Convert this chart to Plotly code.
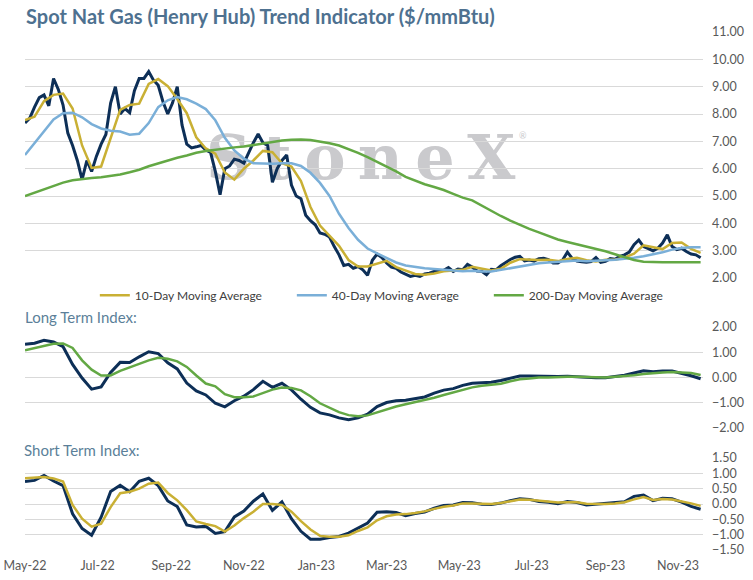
import pandas as pd
import plotly.graph_objects as go

# spot price, sampled every 4 days from 1 May 2022
spot_dates = pd.date_range("2022-05-01", periods=143, freq="4D")
spot = [7.67, 7.85, 8.25, 8.6, 8.7, 8.3, 9.3, 8.9, 8.33, 7.3,
        6.85, 6.3, 5.6, 6.3, 5.9, 6.45, 6.9, 7.25, 8.4, 9.0,
        8.0, 8.2, 8.05, 8.85, 9.3, 9.3, 9.55, 9.24, 9.05, 8.45,
        8.0, 8.4, 9.0, 7.6, 6.9, 6.76, 6.8, 6.85, 6.68, 6.6,
        5.9, 5.05, 6.0, 6.1, 6.35, 6.3, 6.2, 6.6, 6.95, 7.27,
        6.95, 6.85, 5.5, 6.0, 6.3, 6.5, 5.4, 5.0, 4.9, 4.3,
        4.1, 3.95, 3.65, 3.6, 3.5, 3.15, 2.85, 2.46, 2.5, 2.36,
        2.42, 2.3, 2.1, 2.65, 2.88, 2.75, 2.55, 2.4, 2.36, 2.22,
        2.14, 2.06, 2.1, 2.06, 2.15, 2.18, 2.24, 2.28, 2.28, 2.38,
        2.24, 2.33, 2.3, 2.5, 2.4, 2.26, 2.25, 2.12, 2.32, 2.3,
        2.45, 2.57, 2.68, 2.76, 2.79, 2.63, 2.66, 2.62, 2.71, 2.72,
        2.67, 2.55, 2.55, 2.66, 2.95, 2.72, 2.62, 2.6, 2.58, 2.6,
        2.75, 2.57, 2.61, 2.71, 2.69, 2.79, 2.85, 2.95, 3.22, 3.39,
        3.15, 3.08, 3.0, 3.09, 3.28, 3.58, 3.15, 3.04, 3.09, 2.97,
        2.88, 2.85, 2.74]

# smoother series, sampled every 8 days
ma_dates = pd.date_range("2022-05-01", periods=72, freq="8D")
ma10 = [7.78, 7.9, 8.47, 8.7, 8.75, 8.2, 6.85, 6.03, 6.08, 7.08,
        8.15, 8.33, 8.38, 9.1, 9.28, 9.02, 8.55, 8.03, 7.15, 6.74,
        6.55, 5.86, 5.6, 6.0, 6.3, 6.65, 6.6, 6.2, 6.08, 5.55,
        4.6, 3.92, 3.53, 3.18, 2.66, 2.42, 2.42, 2.53, 2.63, 2.4,
        2.27, 2.15, 2.12, 2.17, 2.25, 2.28, 2.3, 2.41, 2.35, 2.28,
        2.34, 2.56, 2.69, 2.67, 2.66, 2.67, 2.62, 2.7, 2.74, 2.65,
        2.61, 2.67, 2.67, 2.75, 2.89, 3.2, 3.14, 3.06, 3.28, 3.3,
        3.07, 2.92]
ma40 = [6.5, 6.92, 7.38, 7.8, 8.03, 8.05, 7.88, 7.63, 7.47, 7.39,
        7.36, 7.24, 7.28, 7.67, 8.25, 8.5, 8.62, 8.54, 8.38, 8.18,
        7.77, 7.13, 6.67, 6.37, 6.2, 6.18, 6.18, 6.2, 6.2, 6.1,
        5.85, 5.48, 5.0, 4.35, 3.83, 3.4, 3.08, 2.9, 2.72, 2.57,
        2.46, 2.4, 2.36, 2.33, 2.3, 2.27, 2.25, 2.27, 2.24, 2.24,
        2.3, 2.36, 2.42, 2.48, 2.54, 2.57, 2.6, 2.63, 2.64, 2.61,
        2.62, 2.65, 2.67, 2.7, 2.74, 2.8, 2.87, 2.94, 3.04, 3.1,
        3.13, 3.13]
ma200 = [5.0, 5.12, 5.24, 5.37, 5.49, 5.58, 5.63, 5.66, 5.69, 5.73,
         5.79, 5.87, 5.96, 6.09, 6.2, 6.31, 6.4, 6.48, 6.58, 6.65,
         6.7, 6.74, 6.78, 6.81, 6.87, 6.92, 6.98, 7.03, 7.06, 7.07,
         7.05, 7.0, 6.93, 6.85, 6.72, 6.58, 6.42, 6.25, 6.06, 5.9,
         5.7, 5.56, 5.43, 5.33, 5.22, 5.08, 4.94, 4.84, 4.64, 4.46,
         4.27, 4.1, 3.94, 3.8, 3.67, 3.53, 3.41, 3.32, 3.24, 3.15,
         3.07, 2.98, 2.87, 2.76, 2.66, 2.6, 2.58, 2.58, 2.58, 2.58,
         2.58, 2.58]

long_idx = [1.32, 1.36, 1.47, 1.41, 1.22, 0.52, -0.02, -0.46, -0.37, 0.2,
            0.6, 0.59, 0.82, 1.02, 0.95, 0.58, 0.34, -0.22, -0.53, -0.69,
            -1.02, -1.16, -0.92, -0.74, -0.48, -0.15, -0.39, -0.23, -0.49, -0.86,
            -1.18, -1.4, -1.48, -1.6, -1.67, -1.6, -1.45, -1.15, -0.99, -0.92,
            -0.9, -0.83, -0.77, -0.62, -0.5, -0.44, -0.31, -0.23, -0.22, -0.19,
            -0.12, -0.03, 0.06, 0.06, 0.05, 0.04, 0.04, 0.05, 0.03, 0.0,
            -0.01, -0.01, 0.04, 0.09, 0.18, 0.27, 0.23, 0.26, 0.26, 0.17,
            0.07, -0.05]
long_sig = [1.08, 1.16, 1.26, 1.34, 1.35, 1.17, 0.68, 0.31, 0.08, 0.08,
            0.26, 0.4, 0.51, 0.68, 0.78, 0.74, 0.64, 0.42, 0.08, -0.24,
            -0.35, -0.66, -0.78, -0.78, -0.75, -0.6, -0.48, -0.4, -0.42, -0.51,
            -0.74, -1.02, -1.2, -1.37, -1.49, -1.53, -1.5, -1.38, -1.25, -1.15,
            -1.06, -0.98, -0.9, -0.8, -0.69, -0.59, -0.49, -0.39, -0.33, -0.29,
            -0.25, -0.15, -0.07, -0.04, 0.0, 0.0, 0.02, 0.03, 0.03, 0.03,
            0.01, 0.0, 0.02, 0.05, 0.09, 0.14, 0.18, 0.2, 0.22, 0.2,
            0.18, 0.1]
short_idx = [0.73, 0.77, 0.93, 0.75, 0.6, -0.32, -0.8, -1.02, -0.43, 0.41,
             0.61, 0.4, 0.74, 0.84, 0.6, 0.1, -0.08, -0.68, -0.75, -0.73,
             -0.96, -0.9, -0.42, -0.23, 0.09, 0.33, -0.21, 0.07, -0.48, -0.89,
             -1.15, -1.15, -1.09, -1.06, -0.95, -0.78, -0.62, -0.27, -0.25, -0.28,
             -0.38, -0.31, -0.26, -0.14, -0.05, -0.03, 0.05, 0.04, -0.01, -0.02,
             0.03, 0.11, 0.17, 0.15, 0.08, 0.06, 0.01, 0.08, 0.05, -0.03,
             0.0, 0.02, 0.04, 0.07, 0.25, 0.29, 0.11, 0.19, 0.17, 0.06,
             -0.08, -0.17]
short_sig = [0.84, 0.85, 0.88, 0.83, 0.73, -0.03, -0.48, -0.74, -0.64, -0.1,
             0.35, 0.4, 0.5, 0.66, 0.7, 0.36, 0.12, -0.2, -0.57, -0.65,
             -0.72, -0.9, -0.7, -0.46, -0.25, 0.0, 0.0, -0.03, -0.25, -0.56,
             -0.83, -1.04, -1.07, -1.07, -1.02, -0.88, -0.76, -0.53, -0.4, -0.34,
             -0.33, -0.29, -0.24, -0.16, -0.09, -0.05, 0.02, 0.02, 0.0, 0.0,
             0.03, 0.1, 0.15, 0.14, 0.11, 0.07, 0.05, 0.06, 0.06, 0.01,
             0.0, 0.0, 0.02, 0.06, 0.15, 0.23, 0.13, 0.16, 0.15, 0.09,
             0.02, -0.06]

NAVY = "#0d2f57"
GOLD = "#c9b034"
BLUE = "#7aafd8"
GREEN = "#63a844"
GRID = "#d9d9d9"
FONT = "Lato"

fig = go.Figure()

fig.add_trace(go.Scatter(x=spot_dates, y=spot, mode="lines", line=dict(color=NAVY, width=3),
                         showlegend=False, xaxis="x", yaxis="y"))
fig.add_trace(go.Scatter(x=ma_dates, y=ma10, mode="lines", name="10-Day Moving Average",
                         line=dict(color=GOLD, width=2.5), xaxis="x", yaxis="y"))
fig.add_trace(go.Scatter(x=ma_dates, y=ma40, mode="lines", name="40-Day Moving Average",
                         line=dict(color=BLUE, width=2.5), xaxis="x", yaxis="y"))
fig.add_trace(go.Scatter(x=ma_dates, y=ma200, mode="lines", name="200-Day Moving Average",
                         line=dict(color=GREEN, width=2.5), xaxis="x", yaxis="y"))

fig.add_trace(go.Scatter(x=ma_dates, y=long_idx, mode="lines", line=dict(color=NAVY, width=3),
                         showlegend=False, xaxis="x2", yaxis="y2"))
fig.add_trace(go.Scatter(x=ma_dates, y=long_sig, mode="lines", line=dict(color=GREEN, width=2.5),
                         showlegend=False, xaxis="x2", yaxis="y2"))

fig.add_trace(go.Scatter(x=ma_dates, y=short_idx, mode="lines", line=dict(color=NAVY, width=3),
                         showlegend=False, xaxis="x3", yaxis="y3"))
fig.add_trace(go.Scatter(x=ma_dates, y=short_sig, mode="lines", line=dict(color=GOLD, width=2.5),
                         showlegend=False, xaxis="x3", yaxis="y3"))

xrange = ["2022-05-01", "2023-11-22"]
xcommon = dict(type="date", range=xrange, showgrid=False, zeroline=False, automargin=False,
               tick0="2022-05-01", dtick="M2")
ycommon = dict(side="right", showgrid=True, gridcolor=GRID, gridwidth=1, zeroline=False,
               automargin=False, tickformat=".2f", ticks="", ticklabelstandoff=8,
               tickfont=dict(family=FONT, size=12.5, color="#595959"))

fig.update_layout(
    width=753, height=580,
    paper_bgcolor="white", plot_bgcolor="white",
    margin=dict(l=25, r=50, t=32, b=30, autoexpand=False),
    font=dict(family=FONT, color="#404040"),
    xaxis=dict(xcommon, anchor="y", showticklabels=False),
    xaxis2=dict(xcommon, anchor="y2", showticklabels=False),
    xaxis3=dict(xcommon, anchor="y3", showticklabels=True, tickformat="%b-%y",
                ticks="", ticklabelstandoff=6,
                tickfont=dict(family=FONT, size=12.5, color="#595959")),
    xaxis4=dict(xcommon, anchor="y3", overlaying="x3", side="top", showticklabels=False,
                ticks="inside", ticklen=5, tickcolor="#bfbfbf"),
    yaxis=dict(ycommon, domain=[0.525, 1.0], range=[2, 11], dtick=1),
    yaxis2=dict(ycommon, domain=[0.2355, 0.4305], range=[-2, 2], dtick=1),
    yaxis3=dict(ycommon, domain=[0.0, 0.1776], range=[-1.5, 1.5], dtick=0.5),
    legend=dict(orientation="h", x=0.103, xanchor="left", y=0.492, yanchor="middle",
                entrywidth=152, entrywidthmode="pixels", itemwidth=30,
                font=dict(family=FONT, size=12, color="#404040"), bgcolor="rgba(0,0,0,0)"),
    shapes=[dict(type="rect", xref="paper", yref="paper", x0=0.25, x1=0.74, y0=0.70, y1=0.83,
                 line=dict(width=0), fillcolor="rgba(0,0,0,0)", layer="below",
                 label=dict(text="S\u2009t\u2009o\u2009n\u2009e\u2009X", textposition="middle center",
                            font=dict(family="DejaVu Serif", size=62, weight="bold",
                                      color="#cacacd")))],
    annotations=[
        dict(text="<b>Spot Nat Gas (Henry Hub) Trend Indicator ($/mmBtu)</b>", xref="paper", yref="paper",
             x=-0.002, y=1.03, xanchor="left", yanchor="middle", showarrow=False,
             font=dict(family=FONT, size=20, color="#4e7190")),
        dict(text="Long Term Index:", xref="paper", yref="paper", x=-0.003, y=0.449,
             xanchor="left", yanchor="middle", showarrow=False,
             font=dict(family=FONT, size=15, color="#5b7f99")),
        dict(text="Short Term Index:", xref="paper", yref="paper", x=-0.005, y=0.194,
             xanchor="left", yanchor="middle", showarrow=False,
             font=dict(family=FONT, size=15, color="#5b7f99")),
        dict(text="®", xref="paper", yref="paper", x=0.735, y=0.80, xanchor="center",
             yanchor="middle", showarrow=False, font=dict(family=FONT, size=9, color="#c9c9cc")),
    ],
)

fig.write_html("out.html", config={"displayModeBar": False},
               post_script="document.body.style.margin='0';")
